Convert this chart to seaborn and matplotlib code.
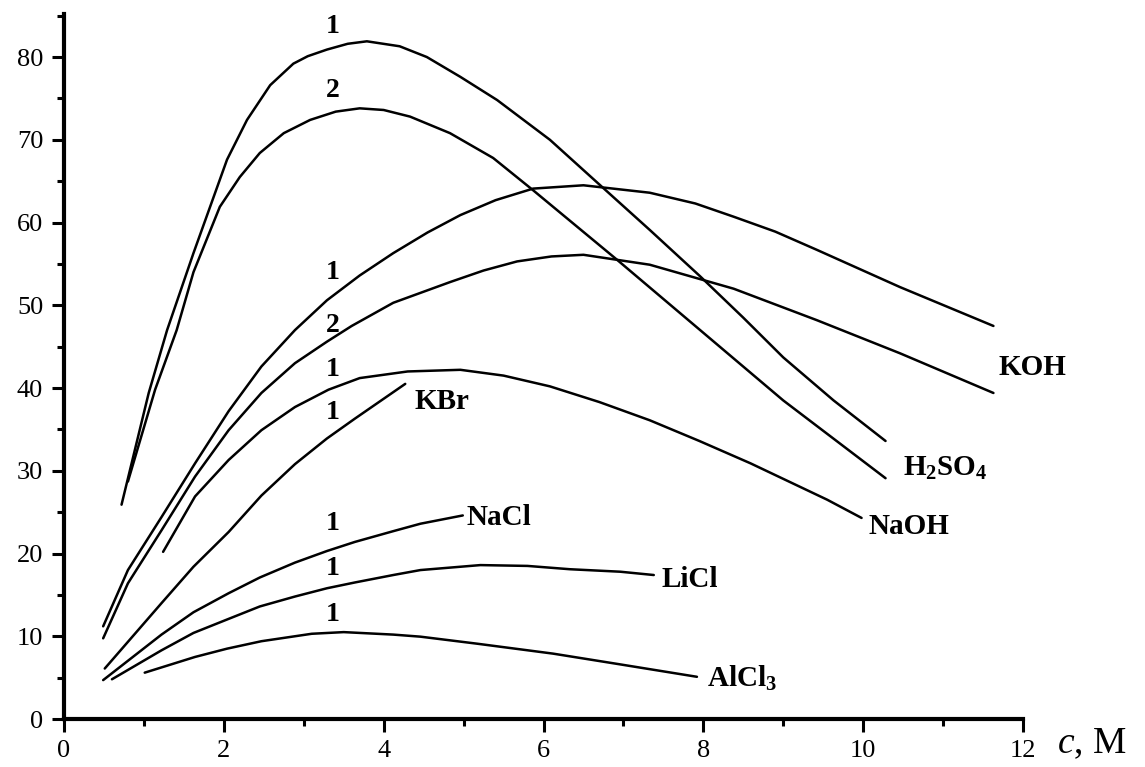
import pandas as pd
import matplotlib
matplotlib.use('Agg')
import matplotlib.pyplot as plt
import seaborn as sns
from matplotlib.ticker import MultipleLocator

# values (c in M, y in arbitrary units)
h2so4_1_c = [0.72, 1.06, 1.29, 1.62, 2.04, 2.29, 2.58, 2.87, 3.05, 3.29, 3.55, 3.79, 4.2, 4.54, 4.96, 5.42, 6.08, 6.71, 7.33, 7.96, 8.5, 9.0, 9.63, 10.28]
h2so4_1_y = [25.9, 39.4, 47.0, 56.3, 67.6, 72.4, 76.6, 79.2, 80.1, 80.9, 81.6, 81.9, 81.3, 80.0, 77.6, 74.8, 70.0, 64.5, 59.1, 53.5, 48.5, 43.7, 38.5, 33.6]

h2so4_2_c = [0.80, 1.14, 1.41, 1.62, 1.95, 2.2, 2.45, 2.75, 3.08, 3.4, 3.70, 4.0, 4.33, 4.83, 5.37, 5.87, 6.92, 7.96, 9.0, 10.28]
h2so4_2_y = [28.7, 39.8, 47.0, 54.0, 61.9, 65.5, 68.4, 70.8, 72.4, 73.4, 73.8, 73.6, 72.8, 70.8, 67.8, 63.9, 55.5, 47.0, 38.5, 29.1]

koh_1_c = [0.49, 0.80, 1.22, 1.64, 2.06, 2.47, 2.89, 3.29, 3.7, 4.12, 4.55, 4.96, 5.4, 5.87, 6.5, 7.33, 7.9, 8.38, 8.9, 9.42, 10.46, 11.63]
koh_1_y = [11.2, 18.0, 24.4, 30.9, 37.2, 42.6, 47.0, 50.6, 53.6, 56.3, 58.8, 60.9, 62.7, 64.1, 64.5, 63.6, 62.3, 60.7, 58.9, 56.7, 52.2, 47.5]

koh_2_c = [0.49, 0.80, 1.22, 1.64, 2.06, 2.47, 2.89, 3.29, 3.60, 4.12, 4.83, 5.25, 5.67, 6.1, 6.5, 7.33, 8.38, 9.42, 10.46, 11.63]
koh_2_y = [9.75, 16.4, 22.8, 29.3, 34.9, 39.4, 43.0, 45.6, 47.5, 50.3, 52.8, 54.2, 55.3, 55.9, 56.1, 54.9, 52.0, 48.2, 44.2, 39.4]

naoh_c = [1.24, 1.64, 2.06, 2.47, 2.89, 3.31, 3.70, 4.3, 4.96, 5.5, 6.08, 6.7, 7.33, 7.95, 8.59, 9.55, 9.98]
naoh_y = [20.2, 26.9, 31.3, 34.9, 37.7, 39.8, 41.2, 42.0, 42.2, 41.5, 40.2, 38.3, 36.1, 33.6, 30.9, 26.5, 24.3]

kbr_c = [0.51, 1.22, 1.62, 2.06, 2.47, 2.89, 3.29, 3.64, 4.27]
kbr_y = [6.1, 14.0, 18.4, 22.6, 27.0, 30.8, 33.9, 36.3, 40.5]

nacl_c = [0.49, 1.22, 1.62, 2.06, 2.45, 2.89, 3.29, 3.64, 4.12, 4.46, 4.99]
nacl_y = [4.7, 10.2, 12.9, 15.2, 17.1, 18.9, 20.3, 21.4, 22.7, 23.6, 24.6]

licl_c = [0.60, 1.22, 1.62, 2.06, 2.45, 2.89, 3.29, 3.64, 4.12, 4.46, 5.21, 5.8, 6.33, 6.96, 7.38]
licl_y = [4.8, 8.3, 10.4, 12.1, 13.6, 14.8, 15.8, 16.5, 17.4, 18.0, 18.6, 18.5, 18.1, 17.8, 17.4]

alcl3_c = [1.01, 1.64, 2.04, 2.47, 3.10, 3.50, 4.12, 4.46, 5.17, 6.12, 6.96, 7.92]
alcl3_y = [5.6, 7.5, 8.5, 9.4, 10.3, 10.5, 10.2, 9.95, 9.1, 7.9, 6.6, 5.1]

# curve numbers placed at the left
num_text = ['1', '2', '1', '2', '1', '1', '1', '1', '1']
num_y = [83.7, 76.0, 53.9, 47.6, 42.2, 37.0, 23.6, 18.2, 12.6]

# electrolyte names at curve ends
name_text = ['KOH', r'$\mathbf{H_2SO_4}$', 'NaOH', 'KBr', 'NaCl', 'LiCl', r'$\mathbf{AlCl_3}$']
name_x = [11.69, 10.5, 10.07, 4.39, 5.04, 7.48, 8.04]
name_y = [41.6, 29.4, 22.3, 37.5, 23.4, 15.95, 3.87]

curves = [
    ('H2SO4 1', h2so4_1_c, h2so4_1_y),
    ('H2SO4 2', h2so4_2_c, h2so4_2_y),
    ('KOH 1', koh_1_c, koh_1_y),
    ('KOH 2', koh_2_c, koh_2_y),
    ('NaOH', naoh_c, naoh_y),
    ('KBr', kbr_c, kbr_y),
    ('NaCl', nacl_c, nacl_y),
    ('LiCl', licl_c, licl_y),
    ('AlCl3', alcl3_c, alcl3_y),
]
rows = []
for name, cs, ys in curves:
    for c, y in zip(cs, ys):
        rows.append({'curve': name, 'c': c, 'y': y})
df = pd.DataFrame(rows)

sns.set_style('ticks')
plt.rcParams['font.family'] = ['Liberation Serif', 'DejaVu Serif']
plt.rcParams['mathtext.fontset'] = 'custom'
plt.rcParams['mathtext.rm'] = 'Liberation Serif'
plt.rcParams['mathtext.it'] = 'Liberation Serif:italic'
plt.rcParams['mathtext.bf'] = 'Liberation Serif:bold'
plt.rcParams['text.color'] = 'black'
plt.rcParams['xtick.color'] = 'black'
plt.rcParams['ytick.color'] = 'black'
plt.rcParams['lines.solid_joinstyle'] = 'round'

fig = plt.figure(figsize=(11.45, 7.67), dpi=100)
ax = fig.add_axes([64 / 1145, 1 - 719 / 767, (1023 - 64) / 1145, (719 - 14) / 767])

sns.lineplot(data=df, x='c', y='y', units='curve', estimator=None, sort=False,
             color='black', linewidth=1.8, legend=False, ax=ax)

ax.set_xlim(0, 12)
ax.set_ylim(0, 85.2)
ax.set_xlabel('')
ax.set_ylabel('')
sns.despine(ax=ax)
for s in ['left', 'bottom']:
    ax.spines[s].set_linewidth(3)
    ax.spines[s].set_color('black')

ax.xaxis.set_major_locator(MultipleLocator(2))
ax.xaxis.set_minor_locator(MultipleLocator(1))
ax.yaxis.set_major_locator(MultipleLocator(10))
ax.yaxis.set_minor_locator(MultipleLocator(5))
ax.tick_params(which='major', direction='out', length=9, width=2.2, color='black',
               labelcolor='black', labelsize=19, pad=6)
ax.tick_params(which='minor', direction='out', length=5, width=2.2, color='black')

for t, y in zip(num_text, num_y):
    ax.text(3.36, y, t, fontsize=20, fontweight='bold', color='black',
            ha='center', va='center')

for t, x, y in zip(name_text, name_x, name_y):
    ax.text(x, y, t, fontsize=21, fontweight='bold', color='black',
            ha='left', va='baseline')

ax.text(12.42, -3.0, r'$c$, M', fontsize=27, color='black',
        ha='left', va='center', clip_on=False)

fig.savefig('out.png', dpi=100)
